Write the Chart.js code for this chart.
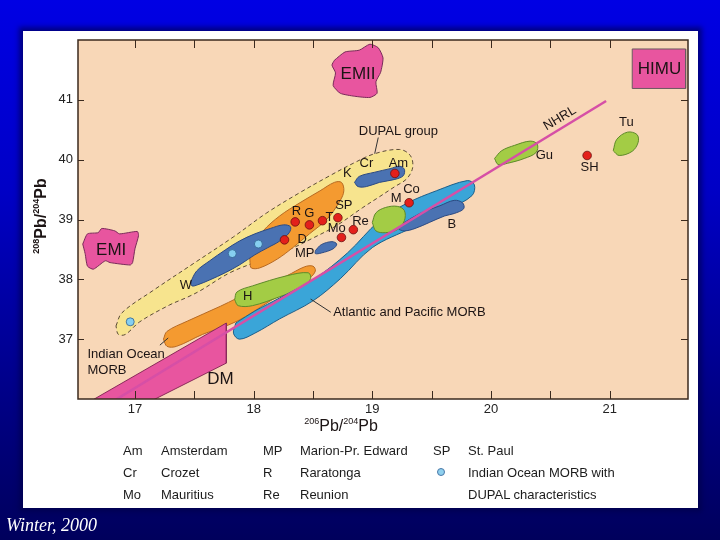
<!DOCTYPE html>
<html>
<head>
<meta charset="utf-8">
<script src="https://cdn.jsdelivr.net/npm/chart.js@4.4.0/dist/chart.umd.min.js"></script>
<style>
  html, body { margin: 0; padding: 0; }
  body {
    width: 720px; height: 540px; overflow: hidden; position: relative;
    background: linear-gradient(to bottom, #0000e4 0%, #0000c6 35%, #00008c 70%, #00005c 100%);
    font-family: "Liberation Sans", Arial, sans-serif;
  }
  #panel {
    position: absolute; left: 23px; top: 31px; width: 675px; height: 477px;
    background: #fff; box-shadow: 0 0 5px 4px rgba(0, 0, 70, 0.6);
  }
  #chart { position: absolute; left: 0; top: 0; }
  .key { position: absolute; font-size: 13px; line-height: 16px; color: #1c1c1c; white-space: nowrap; }
  .dot { position: absolute; width: 6px; height: 6px; border-radius: 50%; background: #8fd0ee; border: 1px solid #4a78a8; }
  #credit {
    position: absolute; left: 6px; top: 515px; color: #fff;
    font-family: "Liberation Serif", "DejaVu Serif", serif; font-style: italic; font-size: 18px;
  }
</style>
</head>
<body>
<div id="panel"></div>
<canvas id="chart" width="720" height="540"></canvas>
<div id="key"></div>
<div id="credit">Winter, 2000</div>
<script>
// axis ticks
const xTickValues = [17, 17.5, 18, 18.5, 19, 19.5, 20, 20.5, 21];
const xTickLabels = ["17", "", "18", "", "19", "", "20", "", "21"];
const yTickValues = [37, 38, 39, 40, 41];
const yTickLabels = ["37", "38", "39", "40", "41"];

// fields, [206Pb/204Pb, 208Pb/204Pb] outlines
const dupalField = [[16.84,37.22],[16.89,37.44],[17.15,37.81],[17.49,38.26],[17.83,38.71],[18.11,39.11],[18.39,39.45],[18.64,39.73],[18.84,39.94],[19.02,40.10],[19.23,40.17],[19.32,40.07],[19.34,39.87],[19.29,39.68],[19.19,39.55],[19.06,39.38],[18.92,39.20],[18.70,38.90],[18.50,38.69],[18.28,38.48],[18.05,38.31],[17.80,38.11],[17.55,37.81],[17.44,37.70],[17.29,37.57],[17.04,37.29],[16.92,37.08],[16.86,37.08]];
const orangeUpper = [[17.97,38.28],[17.97,38.51],[18.08,38.81],[18.22,39.06],[18.39,39.28],[18.56,39.48],[18.68,39.62],[18.74,39.62],[18.76,39.48],[18.73,39.32],[18.62,39.01],[18.47,38.76],[18.33,38.53],[18.20,38.34],[18.05,38.19],[17.98,38.19]];
const wField = [[17.47,37.96],[17.52,38.14],[17.63,38.31],[17.76,38.49],[17.88,38.64],[18.01,38.76],[18.14,38.85],[18.25,38.91],[18.31,38.88],[18.30,38.78],[18.22,38.64],[18.12,38.53],[18.01,38.41],[17.88,38.24],[17.76,38.11],[17.63,37.99],[17.53,37.91],[17.48,37.89]];
const crAmField = [[18.85,39.62],[18.89,39.72],[19.02,39.79],[19.15,39.85],[19.23,39.89],[19.27,39.84],[19.26,39.73],[19.19,39.67],[19.06,39.62],[18.95,39.55],[18.88,39.55]];
const indianMorb = [[17.24,37.00],[17.27,37.13],[17.44,37.30],[17.72,37.55],[17.99,37.81],[18.28,38.06],[18.43,38.21],[18.50,38.22],[18.52,38.14],[18.47,38.02],[18.31,37.84],[18.14,37.64],[17.86,37.30],[17.57,37.08],[17.35,36.88],[17.27,36.88]];
const hField = [[17.84,37.66],[17.86,37.79],[17.99,37.89],[18.28,38.06],[18.46,38.11],[18.48,38.01],[18.41,37.86],[18.22,37.71],[17.99,37.56],[17.87,37.56]];
const atlPacMorb = [[17.85,37.27],[18.01,37.47],[18.22,37.69],[18.52,38.02],[18.79,38.44],[19.06,38.98],[19.29,39.27],[19.54,39.48],[19.80,39.65],[19.86,39.58],[19.84,39.40],[19.65,39.18],[19.44,38.98],[19.33,38.86],[19.00,38.53],[18.73,38.01],[18.50,37.64],[18.22,37.34],[18.01,37.10],[17.88,37.00],[17.83,37.10]];
const bField = [[19.27,38.95],[19.40,39.10],[19.57,39.23],[19.69,39.32],[19.76,39.28],[19.77,39.18],[19.69,39.10],[19.61,39.06],[19.48,38.95],[19.36,38.85],[19.27,38.81],[19.22,38.85]];
const mField = [[19.00,38.95],[19.03,39.11],[19.11,39.20],[19.21,39.22],[19.27,39.15],[19.27,38.98],[19.21,38.83],[19.11,38.78],[19.03,38.81]];
const mpField = [[18.52,38.48],[18.57,38.58],[18.66,38.63],[18.70,38.59],[18.67,38.51],[18.57,38.44],[18.52,38.43]];
const guField = [[20.03,40.02],[20.09,40.15],[20.20,40.24],[20.33,40.31],[20.39,40.26],[20.38,40.12],[20.28,40.02],[20.14,39.94],[20.06,39.92]];
const tuField = [[21.03,40.15],[21.06,40.34],[21.15,40.46],[21.23,40.42],[21.24,40.29],[21.19,40.14],[21.08,40.07]];
const dmField = [[16.64,35.98],[17.77,37.27],[17.77,36.60],[17.15,35.98]];
const emiiField = [[18.68,41.66],[18.77,41.80],[18.89,41.83],[18.98,41.93],[19.05,41.87],[19.09,41.70],[19.07,41.46],[19.03,41.30],[19.04,41.11],[18.98,41.04],[18.85,41.06],[18.73,41.11],[18.67,41.24],[18.69,41.45],[18.66,41.58]];
const emiField = [[16.56,38.59],[16.60,38.76],[16.69,38.78],[16.72,38.85],[16.83,38.81],[16.87,38.76],[17.02,38.80],[17.03,38.73],[17.00,38.51],[16.98,38.28],[16.96,38.24],[16.79,38.28],[16.75,38.31],[16.65,38.17],[16.60,38.22],[16.58,38.43]];
const himuField = [[21.19,41.85],[21.64,41.85],[21.64,41.19],[21.19,41.19]];

// reference line and leader lines
const nhrlLine = [[16.60,35.70],[20.97,40.98]];
const dupalLeader = [[19.05,40.37],[19.02,40.10]];
const atlLeader = [[18.65,37.45],[18.48,37.67]];
const indLeader = [[17.21,36.90],[17.28,37.02]];

// islands (red) and DUPAL-type Indian Ocean MORB (blue)
const islandPoints = [[18.35,38.96],[18.47,38.91],[18.58,38.98],[18.71,39.03],[18.26,38.66],[18.74,38.70],[18.84,38.83],[19.19,39.77],[19.31,39.28],[20.81,40.07]];
const dupalMorbPoints = [[16.96,37.29],[17.82,38.43],[18.04,38.59]];

// text in the plot: [text, x, y, align]
const fieldNames = [["EMII",18.88,41.43],["EMI",16.80,38.48],["HIMU",21.42,41.51],["DM",17.72,36.33]];
const siteLabels = [["Tu",21.14,40.62],["Gu",20.45,40.07],["SH",20.83,39.87],["Cr",18.95,39.94],["Am",19.22,39.94],["K",18.79,39.77],["Co",19.33,39.50],["M",19.20,39.35],["B",19.67,38.91],["R",18.36,39.13],["G",18.47,39.10],["T",18.64,39.03],["SP",18.76,39.23],["Mo",18.70,38.85],["Re",18.90,38.96],["D",18.41,38.66],["MP",18.43,38.43],["W",17.43,37.89],["H",17.95,37.71]];
const noteLabels = [["DUPAL group",19.22,40.47,"center"],["Atlantic and Pacific MORB",18.67,37.44,"left"],["Indian Ocean",16.60,36.75,"left"],["MORB",16.60,36.48,"left"]];
const nhrlLabel = ["NHRL", 20.58, 40.69];

// key under the plot
const keyRows = [
  ["Am", "Amsterdam", "MP", "Marion-Pr. Edward", "SP", "St. Paul"],
  ["Cr", "Crozet", "R", "Raratonga", "", "Indian Ocean MORB with"],
  ["Mo", "Mauritius", "Re", "Reunion", "", "DUPAL characteristics"]
];

const FONT = '"Liberation Sans", Arial, sans-serif';
const PEACH = "#f8d7b7";
const INK = "#1c1414";

function pts(list) {
  return list.map(p => ({ x: p[0], y: p[1] }));
}

function field(list, fill, stroke, extra) {
  const closed = list.concat([list[0]]);
  return Object.assign({
    type: "line",
    data: pts(closed),
    backgroundColor: fill,
    borderColor: stroke,
    borderWidth: 1,
    fill: "shape",
    tension: 0.35,
    pointRadius: 0
  }, extra || {});
}

function segment(list, color, width) {
  return {
    type: "line", data: pts(list), borderColor: color, borderWidth: width,
    fill: false, tension: 0, pointRadius: 0
  };
}

// listed bottom to top
const layers = [
  field(dupalField, "#f7e48e", "#4a3a2a", { borderDash: [4, 3], borderWidth: 0.9 }),
  field(orangeUpper, "#f49a30", "#b86a22"),
  field(wField, "#4a72b2", "#2c4a82"),
  field(crAmField, "#4a72b2", "#2c4a82"),
  field(indianMorb, "#f49a30", "#b86a22"),
  field(hField, "#a3cc45", "#5e8a2a"),
  field(atlPacMorb, "#3aa5d8", "#1d5f8a"),
  field(bField, "#4a72b2", "#2c4a82"),
  field(mField, "#a3cc45", "#5e8a2a"),
  field(mpField, "#4a72b2", "#2c4a82"),
  field(dmField, "#e8559f", "#8a2a5a", { tension: 0 }),
  field(guField, "#a3cc45", "#5e8a2a"),
  segment(nhrlLine, "#d64fa6", 2.5),
  field(tuField, "#a3cc45", "#5e8a2a"),
  field(emiiField, "#e8559f", "#7a2a5a", { tension: 0.2 }),
  field(emiField, "#e8559f", "#7a2a5a", { tension: 0.2 }),
  field(himuField, "#e8559f", "#6a5a60", { tension: 0 }),
  segment(dupalLeader, "#333", 1),
  segment(atlLeader, "#333", 1),
  segment(indLeader, "#333", 1),
  { type: "scatter", data: pts(islandPoints), pointRadius: 4.3, backgroundColor: "#e3201b", borderColor: "#6b1010", borderWidth: 0.8 },
  { type: "scatter", data: pts(dupalMorbPoints), pointRadius: 4, backgroundColor: "#86cff0", borderColor: "#2f5f8f", borderWidth: 0.8 }
];

function drawRich(ctx, parts, x, y) {
  let w = 0;
  parts.forEach(p => { ctx.font = p[1]; w += ctx.measureText(p[0]).width; });
  let cx = x - w / 2;
  parts.forEach(p => {
    ctx.font = p[1];
    ctx.fillText(p[0], cx, y + p[2]);
    cx += ctx.measureText(p[0]).width;
  });
}

const decorPlugin = {
  id: "decor",
  beforeDraw(chart) {
    const { ctx, chartArea: a } = chart;
    ctx.save();
    ctx.fillStyle = PEACH;
    ctx.fillRect(a.left, a.top, a.width, a.height);
    ctx.restore();
  },
  afterDatasetsDraw(chart) {
    const { ctx } = chart;
    const xs = chart.scales.x, ys = chart.scales.y;
    ctx.save();
    ctx.fillStyle = INK;
    ctx.textBaseline = "middle";
    ctx.textAlign = "center";
    ctx.font = "17px " + FONT;
    fieldNames.forEach(l => ctx.fillText(l[0], xs.getPixelForValue(l[1]), ys.getPixelForValue(l[2])));
    ctx.font = "13px " + FONT;
    siteLabels.forEach(l => ctx.fillText(l[0], xs.getPixelForValue(l[1]), ys.getPixelForValue(l[2])));
    noteLabels.forEach(l => {
      ctx.textAlign = l[3];
      ctx.fillText(l[0], xs.getPixelForValue(l[1]), ys.getPixelForValue(l[2]));
    });
    ctx.textAlign = "center";
    ctx.translate(xs.getPixelForValue(nhrlLabel[1]), ys.getPixelForValue(nhrlLabel[2]));
    ctx.rotate(-31 * Math.PI / 180);
    ctx.fillText(nhrlLabel[0], 0, 0);
    ctx.restore();
  },
  afterDraw(chart) {
    const { ctx, chartArea: a } = chart;
    const xs = chart.scales.x, ys = chart.scales.y;
    ctx.save();
    ctx.strokeStyle = "#3b2a1e";
    ctx.lineWidth = 1.5;
    ctx.strokeRect(a.left, a.top, a.width, a.height);
    ctx.lineWidth = 1;
    ctx.beginPath();
    xTickValues.forEach(v => {
      const px = Math.round(xs.getPixelForValue(v)) + 0.5;
      ctx.moveTo(px, a.bottom); ctx.lineTo(px, a.bottom - 8);
      ctx.moveTo(px, a.top); ctx.lineTo(px, a.top + 8);
    });
    yTickValues.forEach(v => {
      const py = Math.round(ys.getPixelForValue(v)) + 0.5;
      ctx.moveTo(a.left, py); ctx.lineTo(a.left + 6, py);
      ctx.moveTo(a.right, py); ctx.lineTo(a.right - 7, py);
    });
    ctx.stroke();

    // axis titles with superscript mass numbers
    ctx.fillStyle = INK;
    ctx.textAlign = "left";
    ctx.textBaseline = "alphabetic";
    const big = "16px " + FONT, small = "9px " + FONT;
    drawRich(ctx, [["206", small, -7], ["Pb/", big, 0], ["204", small, -7], ["Pb", big, 0]], 341, 431);
    ctx.translate(46, 216);
    ctx.rotate(-Math.PI / 2);
    const bigB = "bold 16px " + FONT, smallB = "bold 9px " + FONT;
    drawRich(ctx, [["208", smallB, -7], ["Pb/", bigB, 0], ["204", smallB, -7], ["Pb", bigB, 0]], 0, 0);
    ctx.restore();
  }
};

Chart.defaults.font.family = FONT;

new Chart(document.getElementById("chart"), {
  type: "scatter",
  data: { datasets: layers.slice().reverse() },
  options: {
    responsive: false,
    animation: false,
    events: [],
    layout: { padding: { left: 0, right: 32, top: 40, bottom: 101 } },
    plugins: { legend: { display: false }, tooltip: { enabled: false } },
    scales: {
      x: {
        type: "linear", min: 16.52, max: 21.66,
        afterBuildTicks: s => { s.ticks = xTickValues.map(v => ({ value: v })); },
        afterFit: s => { s.height = 40; },
        ticks: {
          autoSkip: false, maxRotation: 0, padding: 3, color: "#222",
          font: { size: 13 },
          callback: v => xTickLabels[xTickValues.indexOf(v)] || ""
        },
        grid: { display: false, drawTicks: false },
        border: { display: false }
      },
      y: {
        type: "linear", min: 36, max: 42,
        afterBuildTicks: s => { s.ticks = yTickValues.map(v => ({ value: v })); },
        afterFit: s => { s.width = 78; },
        ticks: {
          padding: 5, color: "#222", font: { size: 13 },
          callback: v => yTickLabels[yTickValues.indexOf(v)] || ""
        },
        grid: { display: false, drawTicks: false },
        border: { display: false }
      }
    }
  },
  plugins: [decorPlugin]
});

// key table
const keyCols = [123, 161, 263, 300, 433, 468];
const keyRowY = [451, 473, 495];
const keyBox = document.getElementById("key");
keyRows.forEach((row, r) => {
  row.forEach((txt, c) => {
    if (!txt) return;
    const el = document.createElement("div");
    el.className = "key";
    el.textContent = txt;
    el.style.left = keyCols[c] + "px";
    el.style.top = (keyRowY[r] - 8) + "px";
    keyBox.appendChild(el);
  });
});
const dot = document.createElement("div");
dot.className = "dot";
dot.style.left = "437px";
dot.style.top = (keyRowY[1] - 5) + "px";
keyBox.appendChild(dot);
</script>
</body>
</html>
